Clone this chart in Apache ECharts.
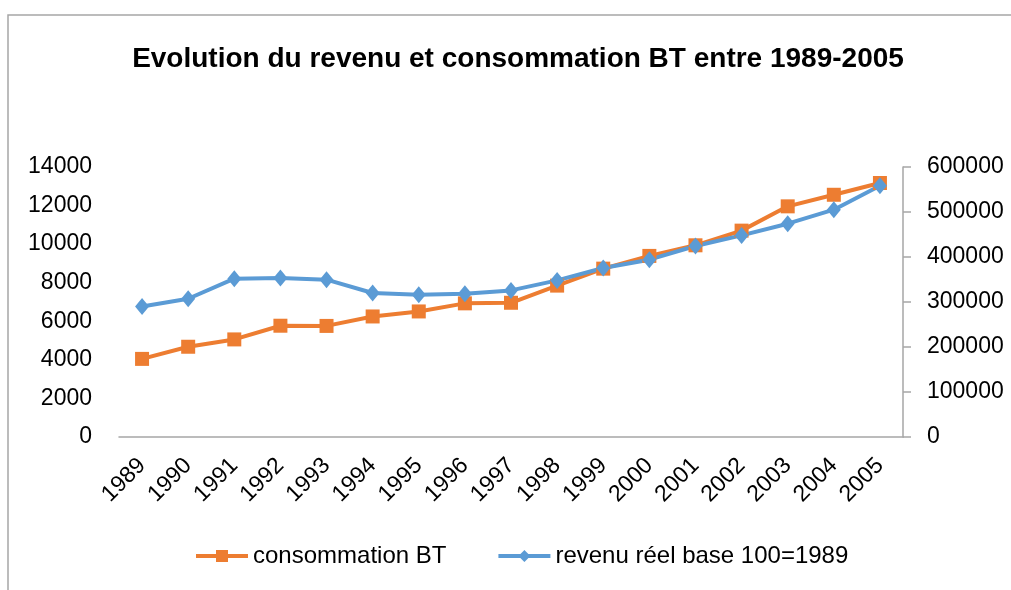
<!DOCTYPE html>
<html>
<head>
<meta charset="utf-8">
<script src="https://cdn.jsdelivr.net/npm/echarts@6/dist/echarts.min.js"></script>
<style>
  html, body { margin: 0; padding: 0; background: #fff; }
  #chart { width: 1011px; height: 590px; }
</style>
</head>
<body>
<div id="chart"></div>
<script>
var years = ['1989', '1990', '1991', '1992', '1993', '1994', '1995', '1996', '1997',
  '1998', '1999', '2000', '2001', '2002', '2003', '2004', '2005'];
var consommation = [4050, 4680, 5060, 5770, 5760, 6250, 6510, 6930, 6960,
  7850, 8730, 9390, 9940, 10700, 11960, 12560, 13170];
var revenu = [290200, 307300, 351800, 353300, 349600, 320000, 316200, 318400, 325800,
  348000, 375600, 394000, 424400, 448000, 474000, 505100, 558400];
var leftTicks = [0, 14000, 2000];
var rightTicks = [0, 600000, 100000];

var font = '"Liberation Sans", Arial, sans-serif';
var plain = function (v) { return String(v); };
var chart = echarts.init(document.getElementById('chart'));
chart.setOption({
  animation: false,
  title: {
    text: 'Evolution du revenu et consommation BT entre 1989-2005',
    left: 513, top: 40, textAlign: 'center',
    textStyle: { fontFamily: font, fontSize: 28, fontWeight: 'bold', color: '#000' }
  },
  graphic: [{
    type: 'polyline',
    shape: { points: [[8, 600], [8, 15], [1020, 15]] },
    style: { stroke: '#a6a6a6', lineWidth: 1.5, fill: null }
  }],
  legend: {
    bottom: 17, left: 189,
    itemWidth: 52, itemHeight: 15, itemGap: 50,
    lineStyle: { width: 4 },
    textStyle: { fontFamily: font, fontSize: 24, color: '#000' },
    data: ['consommation BT', 'revenu réel base 100=1989']
  },
  grid: { left: 119, right: 108, top: 167, bottom: 153, containLabel: false },
  xAxis: {
    type: 'category', data: years, boundaryGap: true,
    axisLine: { lineStyle: { color: '#a6a6a6', width: 1.5 } },
    axisTick: { show: false },
    axisLabel: { rotate: 45, margin: 25, fontFamily: font, fontSize: 23, color: '#000' }
  },
  yAxis: [{
    type: 'value', min: leftTicks[0], max: leftTicks[1], interval: leftTicks[2],
    splitLine: { show: false },
    axisLine: { show: false }, axisTick: { show: false },
    axisLabel: { margin: 27, fontFamily: font, fontSize: 23, color: '#000', formatter: plain }
  }, {
    type: 'value', min: rightTicks[0], max: rightTicks[1], interval: rightTicks[2],
    position: 'right',
    splitLine: { show: false },
    axisLine: { show: true, lineStyle: { color: '#a6a6a6', width: 1.5 } },
    axisTick: { show: true, length: 8, lineStyle: { color: '#a6a6a6', width: 1.5 } },
    axisLabel: { margin: 24, fontFamily: font, fontSize: 23, color: '#000', formatter: plain }
  }],
  series: [{
    name: 'consommation BT', type: 'line', yAxisIndex: 0,
    data: consommation,
    symbol: 'rect', symbolSize: 14,
    lineStyle: { color: '#ED7D31', width: 4 },
    itemStyle: { color: '#ED7D31' }
  }, {
    name: 'revenu réel base 100=1989', type: 'line', yAxisIndex: 1,
    data: revenu,
    symbol: 'diamond', symbolSize: [14, 17],
    lineStyle: { color: '#5B9BD5', width: 4 },
    itemStyle: { color: '#5B9BD5' }
  }]
});
</script>
</body>
</html>
